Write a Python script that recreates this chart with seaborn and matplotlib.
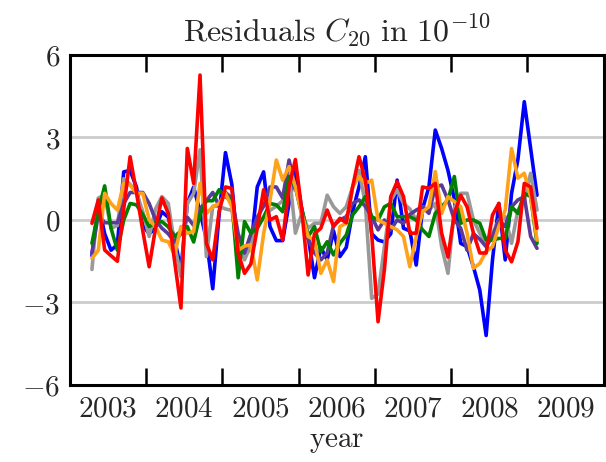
import numpy as np
import pandas as pd
import matplotlib
matplotlib.use("Agg")
import matplotlib.pyplot as plt
import seaborn as sns

# monthly solutions, April 2003 .. February 2009
start_year = 2003
start_month = 4
n_months = 71

series_blue = [-1.3, 0.6, -0.5, -1.1, -0.9, 1.75, 1.8, 1.2, -0.2, -0.5, -0.3, 0.3, 0.1, -0.7, -1.8, 0.6,
               1.2, 0.3, -0.7, -2.5, 0.2, 2.45, 1.3, -1.2, -1.3, -1.0, 1.2, 1.75, -0.24, -0.75, -0.75, 0.6,
               1.8, 0.4, -0.6, -2.1, -1.0, -1.45, -0.4, -1.33, -1.0, 0.3, 1.2, 2.3, -0.5, -0.73, -0.8, -0.5,
               1.45, -0.3, -0.4, -1.64, 0.4, 1.2, 3.27, 2.6, 1.8, 0.75, -0.85, -0.97, -1.7, -2.55, -4.2, -1.45,
               0.6, -1.45, 0.97, 2.2, 4.3, 2.6, 0.9]
series_gray = [-1.8, 0.8, 0.9, -0.3, -0.2, 1.5, 1.3, 1.0, 0.3, -0.6, 0.4, 0.85, 0.6, -0.9, -2.06, 0.6,
               0.97, 2.55, -1.33, 0.5, 0.5, 0.4, 0.35, -0.9, -1.45, -0.9, -0.1, 0.1, 0.35, 0.5, 0.7, 1.8,
               -0.48, 0.24, -0.3, -0.12, -0.12, 0.9, 0.48, 0.24, 0.48, 1.2, 1.8, 0.6, -2.85, -2.7, -0.97, 0.7,
               1.1, 0.6, 0.4, 0.0, 0.48, 0.36, 0.6, -0.97, -1.94, 0.4, 0.97, 0.97, 0.0, -0.48, -0.85, -0.48,
               0.0, 0.12, -0.85, 0.36, 0.73, 1.7, 0.36]
series_purple = [-1.2, 0.2, -0.1, -0.1, -0.1, 0.6, 1.0, 1.0, 1.0, 0.6, 0.0, -0.3, -0.5, -0.8, -0.5, 0.1,
                 -0.2, 0.4, 0.7, 1.0, 0.5, 1.0, 0.8, -0.5, -1.2, -0.5, 0.1, 0.5, 1.2, 1.2, 0.8, 2.18,
                 1.2, 0.2, -0.7, -1.2, -1.45, -1.2, -0.2, 0.0, 0.12, 0.6, 0.73, 0.5, 0.12, -0.36, 0.0, -0.36,
                 0.0, -0.12, 0.2, 0.36, 0.48, 0.24, 1.2, 1.27, 0.73, 0.0, -0.3, -1.1, -0.5, -0.7, -0.97, -0.6,
                 0.0, -0.24, 0.48, 0.73, 0.85, -0.6, -1.03]
series_green = [-0.85, 0.3, 1.24, -0.3, -1.1, 0.0, 0.6, 0.55, 0.2, -0.24, -0.1, -0.06, -0.25, -0.6, -0.4, -0.24,
                -0.8, 0.2, 0.7, 0.7, 1.1, 0.85, 0.7, -2.1, -0.06, -0.48, -0.3, 0.1, 0.6, 0.55, 0.3, 1.58,
                1.2, 0.4, -0.6, -0.24, -1.15, -0.79, -1.27, -0.85, -0.55, 0.18, 0.48, 0.85, 0.12, 0.0, 0.48, 0.6,
                0.12, 0.12, 0.12, 0.0, -0.36, -0.6, 0.24, 0.48, 0.73, 1.58, -0.12, 0.0, 0.0, -0.12, -0.73, -0.73,
                -0.67, -0.67, 0.48, 0.24, 0.97, 0.85, -0.85]
series_orange = [-1.4, -1.1, 0.97, 0.6, 0.36, 1.33, 1.27, 0.97, 0.97, 0.0, -0.24, -0.73, -0.79, -1.27, -0.24, -0.48,
                 -0.42, 1.33, 0.24, 0.48, 0.6, 0.97, 0.48, -1.1, -0.95, -0.9, -2.18, -0.5, 0.7, 2.18, 1.45, 1.94,
                 1.2, 0.24, -0.6, -0.73, -1.94, -1.45, -2.24, -0.24, -0.12, 1.2, 1.58, 1.33, 1.45, 0.0, -0.12, -0.24,
                 -0.36, -0.6, -1.7, -0.6, 0.3, 0.48, 1.76, 0.24, 0.85, 0.67, 0.48, -0.48, -1.76, -1.58, -1.15, -0.97,
                 -0.24, 0.36, 2.6, 1.52, 1.7, 0.85, -0.73]
series_red = [-0.12, 0.73, -1.09, -1.3, -1.5, 0.4, 2.3, 1.0, -0.4, -1.7, -0.3, 0.8, 0.24, -1.5, -3.2, 2.6,
              1.33, 5.27, -0.85, -1.45, 0.3, 1.2, 1.15, -1.2, -1.94, -1.6, -0.3, 1.1, 0.0, 0.12, -0.73, 1.2,
              2.2, 0.36, -2.0, -0.5, -0.3, 0.36, -0.24, 0.06, -0.1, 1.2, 2.3, 1.45, -0.5, -3.7, -1.8, 0.85,
              1.39, 0.85, -0.48, -0.48, 1.2, 1.15, 1.33, -0.48, -1.35, 0.24, 0.9, 0.48, -0.48, -1.2, -1.2, 0.18,
              0.6, -1.1, -1.52, -0.79, 1.33, 1.2, -0.3]

series_names = ["blue", "gray", "purple", "green", "orange", "red"]
series_values = [series_blue, series_gray, series_purple, series_green, series_orange, series_red]
palette = {"blue": "#0000ff", "gray": "#999999", "purple": "#5b3a99",
           "green": "#008000", "orange": "#ffa21a", "red": "#ff0000"}

year_labels = ["2003", "2004", "2005", "2006", "2007", "2008", "2009"]
y_ticks = [-6, -3, 0, 3, 6]

t = start_year + (start_month - 0.5 + np.arange(n_months)) / 12.0
df = pd.concat([pd.DataFrame({"t": t, "v": vals, "s": name})
                for name, vals in zip(series_names, series_values)], ignore_index=True)

sns.set_theme(style="white")
plt.rcParams["mathtext.fontset"] = "cm"
plt.rcParams["font.family"] = ["DejaVu Serif"]

fig = plt.figure(figsize=(6.06, 4.62), dpi=100)
ax = fig.add_axes([0.115, 0.1667, 0.8813, 0.7143])

for yv in [-3, 0, 3]:
    ax.axhline(yv, color="#cccccc", lw=2.0, zorder=0)

sns.lineplot(data=df, x="t", y="v", hue="s", hue_order=series_names, palette=palette,
             lw=2.6, legend=False, ax=ax, estimator=None, sort=False)

ax.set_xlim(2003, 2010)
ax.set_ylim(-6, 6)
ax.set_yticks(y_ticks)
ax.set_yticklabels([f"${v}$" if v >= 0 else f"$-{abs(v)}$" for v in y_ticks], fontsize=21)
ax.tick_params(axis="y", length=0, pad=7)

years = np.arange(2004, 2010)
ax.set_xticks(years)
ax.set_xticklabels([""] * len(years))
ax.set_xticks(np.arange(2003, 2010) + 0.5, minor=True)
ax.set_xticklabels([f"$\\mathrm{{{y}}}$" for y in year_labels], minor=True, fontsize=21)
ax.tick_params(axis="x", which="major", direction="in", length=12, width=1.8,
               top=True, bottom=True, color="black")
ax.tick_params(axis="x", which="minor", length=0, pad=7)

for sp in ax.spines.values():
    sp.set_color("black")
    sp.set_linewidth(2.2)

ax.set_xlabel(r"$\mathrm{year}$", fontsize=21, labelpad=3)
ax.set_ylabel("")
ax.set_title(r"$\mathrm{Residuals}\ C_{20}\ \mathrm{in}\ 10^{-10}$", fontsize=23, pad=10)

fig.savefig("out.png", dpi=100)
